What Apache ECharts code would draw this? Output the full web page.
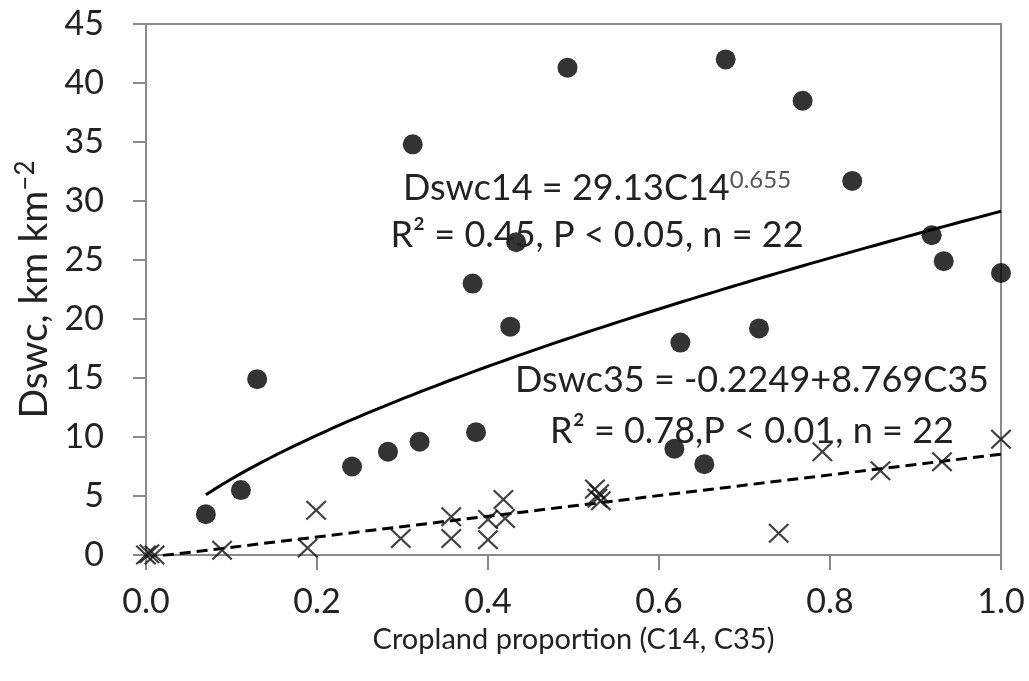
<!DOCTYPE html>
<html>
<head>
<meta charset="utf-8">
<script src="https://cdn.jsdelivr.net/npm/echarts@6/dist/echarts.min.js"></script>
<style>
  html, body { margin: 0; padding: 0; background: #fff; }
  #chart { width: 1029px; height: 681px; }
</style>
</head>
<body>
<div id="chart"></div>
<script>
// Cropland proportion within 14 km (C14) and drainage density Dswc14
const c14    = [0.070, 0.111, 0.130, 0.241, 0.283, 0.312, 0.320, 0.382, 0.386, 0.426, 0.433,
                0.493, 0.618, 0.625, 0.653, 0.678, 0.717, 0.768, 0.826, 0.919, 0.933, 1.000];
const dswc14 = [3.45, 5.5, 14.9, 7.5, 8.75, 34.8, 9.6, 23.0, 10.4, 19.35, 26.5,
                41.3, 9.0, 18.0, 7.7, 42.0, 19.2, 38.5, 31.7, 27.1, 24.9, 23.9];

// Cropland proportion within 35 km (C35) and Dswc35
const c35    = [0.000, 0.004, 0.010, 0.089, 0.189, 0.199, 0.298, 0.357, 0.357, 0.400, 0.400,
                0.418, 0.420, 0.525, 0.528, 0.530, 0.532, 0.740, 0.791, 0.859, 0.931, 1.000];
const dswc35 = [0.0, 0.1, 0.0, 0.4, 0.6, 3.8, 1.4, 3.25, 1.4, 3.0, 1.3,
                4.7, 3.1, 5.6, 4.8, 5.2, 4.6, 1.85, 8.75, 7.15, 7.9, 9.8];

// Fitted relations, as printed on the chart
const powCoef = 29.13, powExp = 0.655;          // Dswc14 = 29.13 C14^0.655
const linIntercept = -0.2249, linSlope = 8.769; // Dswc35 = -0.2249 + 8.769 C35

const FONT = 'Lato, "Open Sans", sans-serif';
const TXT = '#222';
const AXIS = '#8a8a8a';

const pts14 = c14.map((x, i) => [x, dswc14[i]]);
const pts35 = c35.map((x, i) => [x, dswc35[i]]);

// power-law trend evaluated across the C14 range
const xStart = Math.min(...c14);
const powCurve = [];
for (let k = 0; k <= 100; k++) {
  const x = xStart + (1 - xStart) * k / 100;
  powCurve.push([x, powCoef * Math.pow(x, powExp)]);
}
const linCurve = [0, 1].map(x => [x, linIntercept + linSlope * x]);

// a filled "x" glyph
const crossPath = 'path://M0,1.5L1.5,0L10,8.5L18.5,0L20,1.5L11.5,10L20,18.5L18.5,20L10,11.5L1.5,20L0,18.5L8.5,10Z';

const chart = echarts.init(document.getElementById('chart'), null, { renderer: 'canvas' });

const eqStyle = {
  fontFamily: FONT, fontSize: 36, fill: TXT, align: 'center', verticalAlign: 'middle',
  rich: {
    b: { fontFamily: FONT, fontSize: 36, fill: TXT, lineHeight: 40 },
    s: { fontFamily: FONT, fontSize: 24, fill: '#555', verticalAlign: 'top', lineHeight: 40 }
  }
};

chart.setOption({
  animation: false,
  backgroundColor: '#fff',
  grid: {
    left: 146, right: 28, top: 24, bottom: 126,
    show: true, borderColor: AXIS, borderWidth: 2, backgroundColor: 'transparent'
  },
  xAxis: {
    type: 'value', min: 0, max: 1, interval: 0.2,
    // ZWNJ keeps the "t"+"i" pair from forming a ligature
    name: 'Cropland propor\u200Ction (C14, C35)',
    nameLocation: 'middle', nameGap: 58,
    nameTextStyle: { fontFamily: FONT, fontSize: 29, color: TXT, lineHeight: 32 },
    axisLine: { lineStyle: { color: AXIS, width: 2 } },
    axisTick: { show: true, length: 15, lineStyle: { color: AXIS, width: 2 } },
    axisLabel: { fontFamily: FONT, fontSize: 34, color: TXT, margin: 30,
                 formatter: v => v.toFixed(1) },
    splitLine: { show: false }
  },
  yAxis: {
    type: 'value', min: 0, max: 45, interval: 5,
    name: '{b|Dswc, km km}{s|−2}',
    nameLocation: 'middle', nameGap: 88, nameRotate: 90,
    nameTextStyle: {
      fontFamily: FONT, fontSize: 39, color: TXT,
      rich: {
        b: { fontFamily: FONT, fontSize: 39, color: TXT, lineHeight: 44 },
        s: { fontFamily: FONT, fontSize: 26, color: TXT, verticalAlign: 'top', lineHeight: 44 }
      }
    },
    axisLine: { lineStyle: { color: AXIS, width: 2 } },
    axisTick: { show: true, length: 13, lineStyle: { color: AXIS, width: 2 } },
    axisLabel: { fontFamily: FONT, fontSize: 34, color: TXT, margin: 42 },
    splitLine: { show: false }
  },
  series: [
    {
      name: 'Dswc14', type: 'scatter', data: pts14,
      symbol: 'circle', symbolSize: 20,
      itemStyle: { color: '#000' }, z: 5
    },
    {
      name: 'Dswc35', type: 'scatter', data: pts35,
      symbol: crossPath, symbolSize: [21, 20],
      itemStyle: { color: '#111' }, z: 5
    },
    {
      name: 'Dswc14 fit', type: 'line', data: powCurve,
      showSymbol: false, smooth: false,
      lineStyle: { color: '#000', width: 3 }, z: 4
    },
    {
      name: 'Dswc35 fit', type: 'line', data: linCurve,
      showSymbol: false,
      lineStyle: { color: '#000', width: 3, type: [11, 6] }, z: 4
    }
  ],
  graphic: [
    { type: 'text', x: 597, y: 188, z: 10,
      style: Object.assign({}, eqStyle, { text: '{b|Dswc14 = 29.13C14}{s|0.655}' }) },
    { type: 'text', x: 597, y: 235, z: 10,
      style: Object.assign({}, eqStyle, { text: '{b|R² = 0.45, P < 0.05, n = 22}' }) },
    { type: 'text', x: 752, y: 380, z: 10,
      style: Object.assign({}, eqStyle, { text: '{b|Dswc35 = -0.2249+8.769C35}' }) },
    { type: 'text', x: 752, y: 431, z: 10,
      style: Object.assign({}, eqStyle, { text: '{b|R² = 0.78,P < 0.01, n = 22}' }) }
  ]
});
</script>
</body>
</html>
